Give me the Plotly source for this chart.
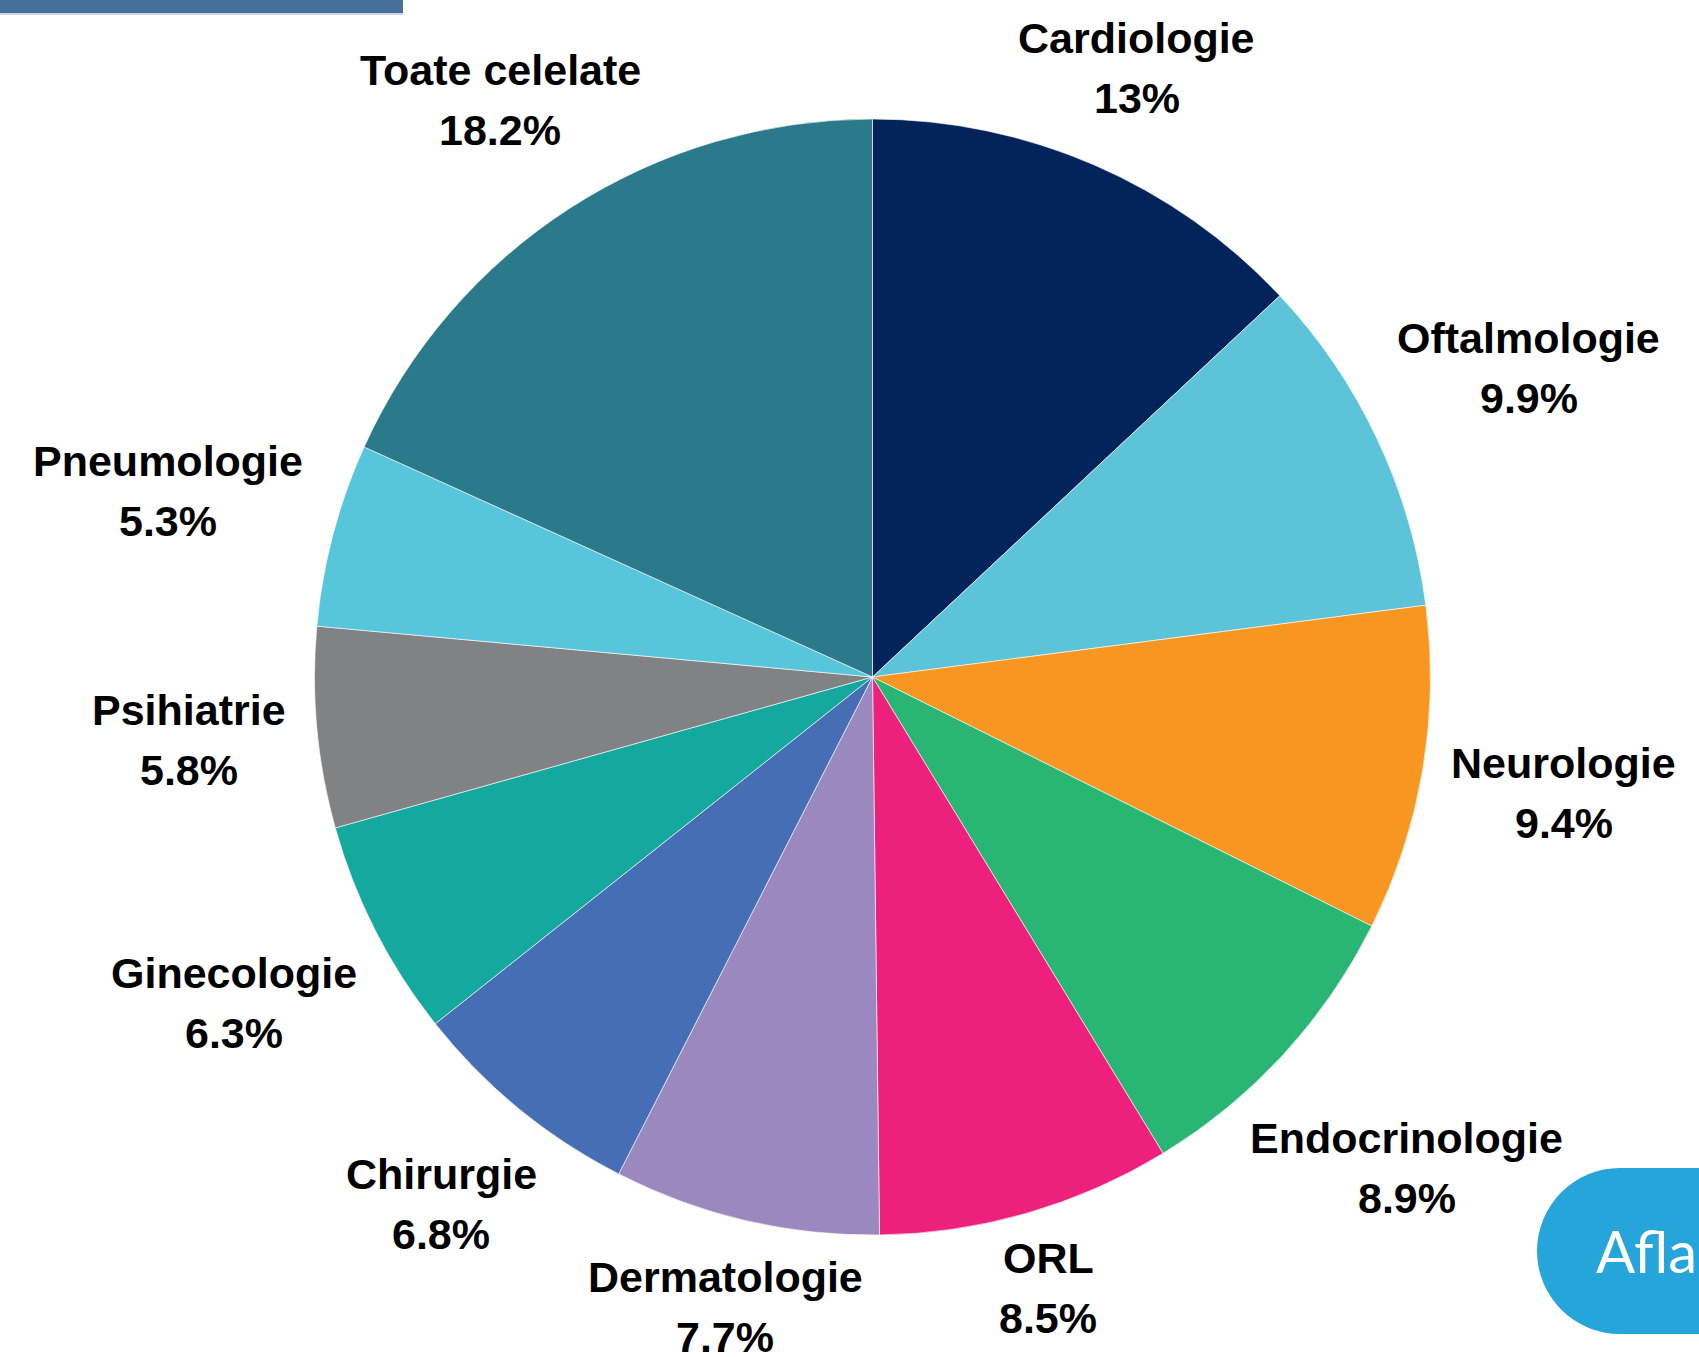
import math
import plotly.graph_objects as go

W, H = 1699, 1357

# ---- data ----
categories = ["Cardiologie", "Oftalmologie", "Neurologie", "Endocrinologie", "ORL",
              "Dermatologie", "Chirurgie", "Ginecologie", "Psihiatrie", "Pneumologie",
              "Toate celelate"]
values = [13, 9.9, 9.4, 8.9, 8.5, 7.7, 6.8, 6.3, 5.8, 5.3, 18.2]
pct_labels = ["13%", "9.9%", "9.4%", "8.9%", "8.5%", "7.7%", "6.8%", "6.3%", "5.8%", "5.3%", "18.2%"]

# ---- styles ----
colors = ["#03245A", "#5CC3D8", "#F89622", "#29B573", "#ED217C", "#9B88BF",
          "#456EB4", "#14A89E", "#808284", "#57C6DB", "#2A7A8B"]
label_radius = [1.19, 1.30, 1.256, 1.30, 1.14, 1.16, 1.22, 1.285, 1.23, 1.305, 1.23]

# pie geometry in pixels
CX, CY, R = 872.5, 677, 558


def px(x):
    return x / W


def py(y):
    return 1 - y / H


fig = go.Figure()
fig.add_trace(go.Pie(
    labels=categories, values=values, sort=False, direction="clockwise", rotation=0,
    marker=dict(colors=colors, line=dict(color="rgba(255,255,255,0.6)", width=1)),
    textinfo="none", hoverinfo="label+percent", showlegend=False,
    domain=dict(x=[px(CX - R), px(CX + R)], y=[py(CY + R), py(CY - R)]),
))

total = sum(values)
cum = 0.0
font = dict(family="Liberation Sans, Arial, sans-serif", size=43, color="#000000")
annotations = []
for name, v, pl, rf in zip(categories, values, pct_labels, label_radius):
    mid = (cum + v / 2) / total * 2 * math.pi
    cum += v
    lx = CX + R * rf * math.sin(mid)
    ly = CY - R * rf * math.cos(mid)
    annotations.append(dict(x=px(lx), y=py(ly), xref="paper", yref="paper",
                            text="<b>%s</b>" % name, showarrow=False, font=font,
                            xanchor="center", yanchor="middle", yshift=30))
    annotations.append(dict(x=px(lx), y=py(ly), xref="paper", yref="paper",
                            text="<b>%s</b>" % pl, showarrow=False, font=font,
                            xanchor="center", yanchor="middle", yshift=-30))

# button text
annotations.append(dict(x=px(1594), y=py(1250), xref="paper", yref="paper", text="Afla",
                        showarrow=False, xanchor="left", yanchor="middle",
                        font=dict(family="Lato, Open Sans, sans-serif", size=58, color="#FFFFFF")))

shapes = [
    dict(type="rect", xref="paper", yref="paper", x0=px(0), x1=px(403), y0=py(13), y1=py(0),
         fillcolor="#466F9B", line=dict(width=0), layer="above"),
    dict(type="rect", xref="paper", yref="paper", x0=px(0), x1=px(403), y0=py(15), y1=py(13),
         fillcolor="#C9D6E6", line=dict(width=0), layer="above"),
    dict(type="circle", xref="paper", yref="paper", x0=px(1537), x1=px(1703), y0=py(1334), y1=py(1168),
         fillcolor="#25A5DA", line=dict(width=0), layer="below"),
    dict(type="rect", xref="paper", yref="paper", x0=px(1620), x1=px(1720), y0=py(1334), y1=py(1168),
         fillcolor="#25A5DA", line=dict(width=0), layer="below"),
]

fig.update_layout(
    width=W, height=H, margin=dict(l=0, r=0, t=0, b=0),
    paper_bgcolor="#FFFFFF", plot_bgcolor="#FFFFFF",
    annotations=annotations, shapes=shapes,
)
fig.write_html("out.html", config={"displayModeBar": False},
               post_script="document.body.style.margin='0';document.body.style.overflow='hidden';")
